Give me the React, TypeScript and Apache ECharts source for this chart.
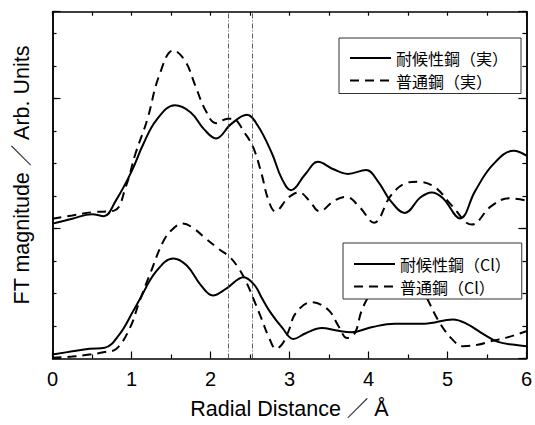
import React, { useEffect, useRef } from "react";
import * as echarts from "echarts";

// ---- data ----
const xTickLabels = ["0", "1", "2", "3", "4", "5", "6"];
const Y_MAX = 10.67;

const weatherRealX = [0, 0.25, 0.5, 0.65, 0.8, 1.0, 1.15, 1.32, 1.55, 1.75, 1.92, 2.07, 2.26, 2.46, 2.6, 2.78, 2.9, 3.02, 3.2, 3.36, 3.55, 3.74, 3.97, 4.12, 4.28, 4.46, 4.66, 4.8, 4.94, 5.16, 5.35, 5.57, 5.84, 6.0];
const weatherRealY = [4.15, 4.3, 4.44, 4.38, 4.85, 5.75, 6.6, 7.35, 7.79, 7.57, 7.05, 6.77, 7.21, 7.5, 7.16, 6.3, 5.55, 5.18, 5.67, 6.05, 5.83, 5.68, 5.8, 5.45, 4.85, 4.48, 4.96, 5.11, 4.94, 4.31, 5.15, 5.95, 6.39, 6.24];

const normalRealX = [0, 0.25, 0.5, 0.78, 0.93, 1.05, 1.2, 1.35, 1.53, 1.68, 1.81, 1.94, 2.07, 2.22, 2.3, 2.43, 2.54, 2.65, 2.73, 2.82, 2.99, 3.12, 3.25, 3.38, 3.57, 3.72, 3.89, 4.07, 4.28, 4.46, 4.62, 4.84, 5.05, 5.31, 5.55, 5.78, 6.0];
const normalRealY = [4.3, 4.4, 4.5, 4.55, 5.3, 6.3, 7.35, 8.7, 9.48, 9.15, 8.38, 7.62, 7.24, 7.38, 7.36, 6.95, 6.5, 5.65, 4.9, 4.53, 4.96, 5.11, 4.86, 4.53, 4.86, 4.97, 4.65, 4.18, 5.0, 5.38, 5.44, 5.27, 4.72, 4.12, 4.68, 4.93, 4.86];

const weatherClX = [0, 0.25, 0.47, 0.66, 0.85, 1.02, 1.1, 1.31, 1.53, 1.7, 1.88, 2.03, 2.2, 2.42, 2.56, 2.65, 2.75, 2.91, 3.05, 3.2, 3.41, 3.6, 3.79, 4.05, 4.33, 4.71, 5.07, 5.25, 5.45, 5.64, 5.85, 6.0];
const weatherClY = [0.12, 0.22, 0.3, 0.33, 0.75, 1.45, 1.8, 2.67, 3.08, 2.86, 2.25, 1.94, 2.15, 2.5, 2.25, 1.86, 1.45, 0.94, 0.6, 0.77, 0.94, 0.86, 0.81, 0.97, 1.07, 1.07, 1.2, 1.06, 0.76, 0.51, 0.42, 0.38];

const normalClX = [0, 0.25, 0.47, 0.66, 0.81, 0.98, 1.1, 1.23, 1.4, 1.52, 1.65, 1.8, 1.94, 2.1, 2.24, 2.35, 2.45, 2.55, 2.65, 2.74, 2.83, 2.91, 2.99, 3.08, 3.28, 3.49, 3.62, 3.73, 3.83, 3.91, 4.02, 4.18, 4.36, 4.55, 4.73, 4.88, 5.05, 5.2, 5.38, 5.55, 5.76, 6.0];
const normalClY = [0.02, 0.06, 0.12, 0.2, 0.3, 0.94, 1.75, 2.57, 3.59, 3.98, 4.15, 3.98, 3.69, 3.38, 3.13, 2.8, 2.37, 1.8, 1.2, 0.65, 0.3, 0.45, 0.85, 1.4, 1.73, 1.5, 1.0, 0.63, 0.79, 1.45, 2.0, 2.7, 2.95, 2.6, 1.9, 1.19, 0.62, 0.38, 0.42, 0.53, 0.65, 0.84];

const markerX = [2.23, 2.53];

const seriesNames = ["耐候性鋼（実）", "普通鋼（実）", "耐候性鋼（Cl）", "普通鋼（Cl）"];
const xTitle = "Radial Distance ／ Å";
const yTitle = "FT magnitude ／ Arb. Units";

const zip = (xs: number[], ys: number[]) => xs.map((x, i) => [x, ys[i]]);

const LATIN = "Liberation Sans, Arial, Noto Sans CJK JP, sans-serif";
const CJK = "Noto Sans CJK JP, sans-serif";

export default function App() {
  const ref = useRef<HTMLDivElement>(null);

  useEffect(() => {
    if (!ref.current) return;
    const chart = echarts.init(ref.current, undefined, { renderer: "svg" });

    const axisLine = { show: true, onZero: false, lineStyle: { color: "#000", width: 1.5 } };
    const tickStyle = { color: "#000", width: 1.2 };

    const yAxisBase = (position: string, interval: number, len: number) => ({
      type: "value",
      position,
      min: 0,
      max: Y_MAX,
      interval,
      axisLine,
      axisTick: { show: true, inside: true, length: len, lineStyle: tickStyle },
      axisLabel: { show: false },
      splitLine: { show: false },
    });

    const solid = { color: "#000", width: 2, type: "solid" };
    const dashed = { color: "#000", width: 2, type: [9, 6] };

    const mkSeries = (name: string, data: number[][], ls: any, extra: any = {}) => ({
      type: "line",
      name,
      data,
      smooth: 0.4,
      symbol: "none",
      showSymbol: false,
      lineStyle: ls,
      itemStyle: { color: "#000" },
      z: 2,
      ...extra,
    });

    const legendBase = {
      orient: "vertical",
      itemWidth: 41,
      itemHeight: 14,
      itemGap: 6.5,
      backgroundColor: "#fff",
      borderColor: "#333",
      borderWidth: 1,
      borderRadius: 0,
      itemStyle: { opacity: 0 },
      textStyle: { fontSize: 16, lineHeight: 16, color: "#000", fontFamily: CJK },
      selectedMode: false,
      z: 10,
    };

    chart.setOption({
      animation: false,
      backgroundColor: "#fff",
      grid: { left: 52.5, right: 5.7, top: 11.7, bottom: 64.3, containLabel: false },
      xAxis: [
        {
          type: "value",
          position: "bottom",
          min: 0,
          max: 6,
          interval: 1,
          axisLine,
          axisTick: { show: true, inside: true, length: 7, lineStyle: tickStyle },
          minorTick: { show: true, splitNumber: 2, length: 4, lineStyle: tickStyle },
          axisLabel: {
            show: true,
            fontSize: 20,
            color: "#000",
            fontFamily: LATIN,
            margin: 11,
            formatter: (v: number) => xTickLabels[Math.round(v)] ?? "",
          },
          splitLine: { show: false },
          name: xTitle,
          nameLocation: "middle",
          nameGap: 40,
          nameTextStyle: { fontSize: 21.5, color: "#000", fontFamily: LATIN },
        },
        {
          type: "value",
          position: "top",
          min: 0,
          max: 6,
          interval: 0.5,
          axisLine,
          axisTick: { show: true, inside: true, length: 4, lineStyle: tickStyle },
          axisLabel: { show: false },
          splitLine: { show: false },
        },
      ],
      yAxis: [
        yAxisBase("left", 1, 4),
        yAxisBase("left", 4, 8),
        yAxisBase("right", 1, 4),
        yAxisBase("right", 4, 8),
      ],
      legend: [
        {
          ...legendBase,
          data: [seriesNames[0], seriesNames[1]],
          left: 339,
          top: 38,
          padding: [12, 13, 5, 10],
        },
        {
          ...legendBase,
          data: [seriesNames[2], seriesNames[3]],
          left: 343,
          top: 243,
          padding: [13, 11, 4.5, 10],
        },
      ],
      graphic: [
        {
          type: "text",
          x: 22,
          y: 175,
          rotation: Math.PI / 2,
          style: {
            text: yTitle,
            fontSize: 21.5,
            fontFamily: LATIN,
            fill: "#000",
            align: "center",
            verticalAlign: "middle",
          },
        },
      ],
      series: [
        mkSeries(seriesNames[0], zip(weatherRealX, weatherRealY), solid, {
          markLine: {
            silent: true,
            symbol: ["none", "none"],
            label: { show: false },
            lineStyle: { color: "#333", width: 0.8, type: [5, 2, 1, 2] },
            data: markerX.map((v) => ({ xAxis: v })),
          },
        }),
        mkSeries(seriesNames[1], zip(normalRealX, normalRealY), dashed),
        mkSeries(seriesNames[2], zip(weatherClX, weatherClY), solid),
        mkSeries(seriesNames[3], zip(normalClX, normalClY), dashed),
      ],
    });

    return () => chart.dispose();
  }, []);

  return (
    <div
      ref={ref}
      style={{ position: "fixed", left: 0, top: 0, width: 535, height: 425, background: "#fff" }}
    />
  );
}
